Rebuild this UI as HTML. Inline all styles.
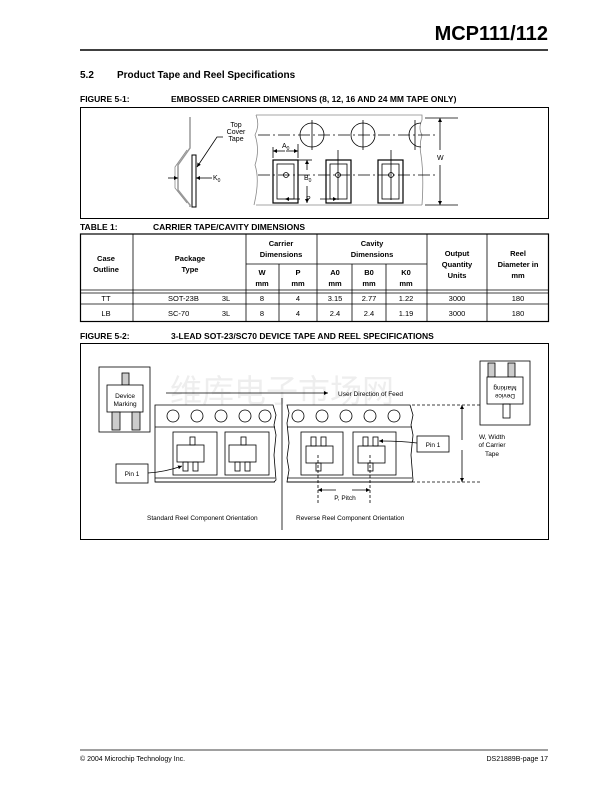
<!DOCTYPE html><html><head><meta charset="utf-8"><style>
body{margin:0;background:#fff;width:611px;height:791px;overflow:hidden}
svg{display:block}
text{font-family:"Liberation Sans","Noto Sans CJK SC",sans-serif;fill:#000}
</style></head><body>
<svg width="611" height="791" viewBox="0 0 611 791" xmlns="http://www.w3.org/2000/svg">
<defs><marker id="a" viewBox="0 0 10 10" refX="10" refY="5" markerWidth="5" markerHeight="5" orient="auto"><path d="M0,0L10,5L0,10z" fill="#000"/></marker></defs>
<text x="548" y="40" text-anchor="end" font-size="20" font-weight="bold">MCP111/112</text>
<line x1="80" y1="50" x2="548" y2="50" stroke="#000" stroke-width="1.5"/>
<text x="80" y="78" font-size="10" font-weight="bold">5.2</text>
<text x="117" y="78" font-size="10" font-weight="bold">Product Tape and Reel Specifications</text>
<text x="80" y="102" font-size="8.5" font-weight="bold">FIGURE 5-1:</text>
<text x="171" y="102" font-size="8.5" font-weight="bold">EMBOSSED CARRIER DIMENSIONS (8, 12, 16 AND 24 MM TAPE ONLY)</text>
<rect x="80.5" y="107.5" width="468" height="111" fill="none" stroke="#000"/>
<g stroke="#000" fill="none" stroke-width="0.8">
<path d="M190,117 V148 L178,165 V190 L190,205 V207" stroke="#999" stroke-width="1.5"/>
<path d="M187,150 L175,167 V188 L187,203" stroke="#888"/>
<rect x="192" y="155" width="4" height="52" stroke-width="1"/>
<line x1="168" y1="178" x2="178" y2="178" marker-end="url(#a)"/>
<line x1="212" y1="178" x2="196" y2="178" marker-end="url(#a)"/>
<path d="M223,137 H217 L197,167" marker-end="url(#a)"/>
</g>
<text x="236" y="127" font-size="7" text-anchor="middle">Top</text>
<text x="236" y="134" font-size="7" text-anchor="middle">Cover</text>
<text x="236" y="141" font-size="7" text-anchor="middle">Tape</text>
<text x="213" y="180" font-size="7">K<tspan font-size="5" dy="2">0</tspan></text>
<g stroke="#000" fill="none" stroke-width="0.8">
<path d="M256,115 H422 V120 M422,205 H256" stroke="#888"/>
<path d="M256,115 q4,10 -1,20 q5,15 0,30 q5,15 -1,40" stroke="#888"/>
<path d="M422,120 q-4,8 0,15 q-3,10 -1,20 q3,20 1,50" stroke="#888"/>
<line x1="258" y1="135" x2="438" y2="135" stroke-dasharray="12,3,2,3"/>
<line x1="258" y1="175" x2="438" y2="175" stroke-dasharray="12,3,2,3"/>
<circle cx="312" cy="135" r="12"/><circle cx="363" cy="135" r="12"/><path d="M421,123 a12,12 0 0,0 0,24"/>
<line x1="312" y1="120" x2="312" y2="150"/><line x1="363" y1="120" x2="363" y2="150"/><line x1="415" y1="120" x2="415" y2="150"/>
<rect x="273" y="160" width="25" height="43" stroke-width="1.2"/><rect x="277" y="164" width="17" height="35"/>
<rect x="326" y="160" width="25" height="43" stroke-width="1.2"/><rect x="330" y="164" width="17" height="35"/>
<rect x="378" y="160" width="25" height="43" stroke-width="1.2"/><rect x="382" y="164" width="17" height="35"/>
<circle cx="286" cy="175" r="2.5"/><circle cx="338" cy="175" r="2.5"/><circle cx="391" cy="175" r="2.5"/>
<line x1="338" y1="150" x2="338" y2="200"/><line x1="391" y1="150" x2="391" y2="200"/>
<line x1="273" y1="147" x2="273" y2="158"/><line x1="298" y1="144" x2="298" y2="158"/>
<line x1="285" y1="151" x2="273" y2="151" marker-end="url(#a)"/><line x1="286" y1="151" x2="298" y2="151" marker-end="url(#a)"/>
<line x1="298" y1="160" x2="312" y2="160"/>
<line x1="307" y1="170" x2="307" y2="160" marker-end="url(#a)"/><line x1="307" y1="186" x2="307" y2="203" marker-end="url(#a)"/>
<line x1="300" y1="199" x2="285" y2="199" marker-end="url(#a)"/><line x1="320" y1="199" x2="337" y2="199" marker-end="url(#a)"/>
<line x1="425" y1="118" x2="458" y2="118"/><line x1="425" y1="205" x2="458" y2="205"/>
<line x1="440" y1="150" x2="440" y2="118" marker-end="url(#a)"/><line x1="440" y1="165" x2="440" y2="205" marker-end="url(#a)"/>
</g>
<text x="282" y="148" font-size="7">A<tspan font-size="5" dy="2">0</tspan></text>
<text x="304" y="180" font-size="7">B<tspan font-size="5" dy="2">0</tspan></text>
<text x="306" y="201" font-size="7">P</text>
<text x="437" y="160" font-size="7">W</text>
<text x="80" y="230" font-size="8.5" font-weight="bold">TABLE 1:</text>
<text x="153" y="230" font-size="8.5" font-weight="bold">CARRIER TAPE/CAVITY DIMENSIONS</text>
<g stroke="#000" fill="none" stroke-width="0.8">
<rect x="80.5" y="234" width="468" height="87.5" stroke-width="1.2"/>
<line x1="80" y1="290" x2="548" y2="290"/><line x1="80" y1="293" x2="548" y2="293"/>
<line x1="80" y1="304" x2="548" y2="304"/>
<line x1="246" y1="264" x2="427" y2="264"/>
<line x1="133" y1="234" x2="133" y2="321"/><line x1="246" y1="234" x2="246" y2="321"/>
<line x1="279" y1="264" x2="279" y2="321"/><line x1="317" y1="234" x2="317" y2="321"/>
<line x1="352" y1="264" x2="352" y2="321"/><line x1="386" y1="264" x2="386" y2="321"/>
<line x1="427" y1="234" x2="427" y2="321"/><line x1="487" y1="234" x2="487" y2="321"/>
</g>
<g font-size="7.5" font-weight="bold" text-anchor="middle">
<text x="106" y="261">Case</text><text x="106" y="272">Outline</text>
<text x="190" y="261">Package</text><text x="190" y="272">Type</text>
<text x="281" y="246">Carrier</text><text x="281" y="257">Dimensions</text>
<text x="372" y="246">Cavity</text><text x="372" y="257">Dimensions</text>
<text x="457" y="256">Output</text><text x="457" y="267">Quantity</text><text x="457" y="278">Units</text>
<text x="518" y="256">Reel</text><text x="518" y="267">Diameter in</text><text x="518" y="278">mm</text>
<text x="262" y="275">W</text><text x="262" y="286">mm</text>
<text x="298" y="275">P</text><text x="298" y="286">mm</text>
<text x="335" y="275">A0</text><text x="335" y="286">mm</text>
<text x="369" y="275">B0</text><text x="369" y="286">mm</text>
<text x="406" y="275">K0</text><text x="406" y="286">mm</text>
</g>
<g font-size="7.5" text-anchor="middle">
<text x="106" y="301">TT</text><text x="168" y="301" text-anchor="start">SOT-23B</text><text x="226" y="301">3L</text>
<text x="262" y="301">8</text><text x="298" y="301">4</text><text x="335" y="301">3.15</text><text x="369" y="301">2.77</text><text x="406" y="301">1.22</text><text x="457" y="301">3000</text><text x="518" y="301">180</text>
<text x="106" y="316">LB</text><text x="168" y="316" text-anchor="start">SC-70</text><text x="226" y="316">3L</text>
<text x="262" y="316">8</text><text x="298" y="316">4</text><text x="335" y="316">2.4</text><text x="369" y="316">2.4</text><text x="406" y="316">1.19</text><text x="457" y="316">3000</text><text x="518" y="316">180</text>
</g>
<text x="80" y="339" font-size="8.5" font-weight="bold">FIGURE 5-2:</text>
<text x="171" y="339" font-size="8.5" font-weight="bold">3-LEAD SOT-23/SC70 DEVICE TAPE AND REEL SPECIFICATIONS</text>
<rect x="80.5" y="343.5" width="468" height="196" fill="none" stroke="#000"/>
<text x="170" y="402" font-size="32" style="fill:#eeeeee" font-family="Noto Serif CJK SC,serif">维库电子市场网</text>
<g stroke="#000" fill="none" stroke-width="0.8">
<rect x="99" y="367" width="51" height="65"/>
<rect x="122" y="373" width="7" height="12" fill="#ccc"/>
<rect x="107" y="385" width="36" height="27" fill="#fff"/>
<rect x="112" y="412" width="8" height="18" fill="#ccc"/><rect x="132" y="412" width="8" height="18" fill="#ccc"/>
<line x1="166" y1="393" x2="328" y2="393" marker-end="url(#a)"/>
<line x1="282" y1="398" x2="282" y2="530"/>
<path d="M155,405 H273 l3,10 -2,10 2,10 -2,20 2,25 -2,2 H155 V425 H155 Z"/>
<line x1="155" y1="427" x2="275" y2="427"/><line x1="155" y1="478" x2="275" y2="478"/><line x1="155" y1="482" x2="275" y2="482"/>
<circle cx="173" cy="416" r="6"/><circle cx="197" cy="416" r="6"/><circle cx="221" cy="416" r="6"/><circle cx="245" cy="416" r="6"/><circle cx="265" cy="416" r="6"/>
<rect x="173" y="432" width="44" height="43"/><rect x="225" y="432" width="44" height="43"/>
<rect x="190" y="437" width="5" height="8"/><rect x="177" y="445" width="27" height="17"/><rect x="183" y="462" width="5" height="9"/><rect x="193" y="462" width="5" height="9"/>
<rect x="241" y="437" width="5" height="8"/><rect x="229" y="445" width="27" height="17"/><rect x="235" y="462" width="5" height="9"/><rect x="245" y="462" width="5" height="9"/>
<rect x="116" y="464" width="32" height="19"/>
<path d="M148,473 Q165,472 182,466" marker-end="url(#a)"/>
<path d="M287,405 H410 l3,10 -2,10 2,10 -2,20 2,25 -1,2 H287 l2,-12 -2,-12 2,-15 -2,-20 2,-10 z"/>
<line x1="287" y1="427" x2="412" y2="427"/><line x1="287" y1="478" x2="412" y2="478"/><line x1="287" y1="482" x2="412" y2="482"/>
<circle cx="298" cy="416" r="6"/><circle cx="322" cy="416" r="6"/><circle cx="346" cy="416" r="6"/><circle cx="370" cy="416" r="6"/><circle cx="394" cy="416" r="6"/>
<rect x="301" y="432" width="42" height="43"/><rect x="353" y="432" width="43" height="43"/>
<rect x="311" y="437" width="5" height="9"/><rect x="321" y="437" width="5" height="9"/><rect x="306" y="446" width="27" height="17"/><rect x="316" y="463" width="5" height="8"/>
<rect x="363" y="437" width="5" height="9"/><rect x="373" y="437" width="5" height="9"/><rect x="358" y="446" width="27" height="17"/><rect x="368" y="463" width="5" height="8"/>
<rect x="417" y="436" width="32" height="16"/>
<path d="M417,443 Q400,441 379,441" marker-end="url(#a)"/>
<line x1="318" y1="455" x2="318" y2="504" stroke-dasharray="3,2"/><line x1="370" y1="455" x2="370" y2="504" stroke-dasharray="3,2"/>
<line x1="336" y1="490" x2="318" y2="490" marker-end="url(#a)"/><line x1="352" y1="490" x2="370" y2="490" marker-end="url(#a)"/>
<line x1="412" y1="405" x2="480" y2="405" stroke-dasharray="3,2"/><line x1="412" y1="482" x2="480" y2="482" stroke-dasharray="3,2"/>
<line x1="462" y1="440" x2="462" y2="405" marker-end="url(#a)"/><line x1="462" y1="450" x2="462" y2="482" marker-end="url(#a)"/>
<rect x="480" y="361" width="50" height="64"/>
<rect x="488" y="363" width="7" height="14" fill="#ccc"/><rect x="508" y="363" width="7" height="14" fill="#ccc"/>
<rect x="487" y="377" width="36" height="27" fill="#fff"/>
<rect x="503" y="404" width="7" height="14"/>
</g>
<g font-size="6.5">
<text x="125" y="398" text-anchor="middle">Device</text><text x="125" y="406" text-anchor="middle">Marking</text>
<text x="338" y="396">User Direction of Feed</text>
<text x="132" y="476" text-anchor="middle">Pin 1</text>
<text x="433" y="447" text-anchor="middle">Pin 1</text>
<text x="492" y="439" text-anchor="middle">W, Width</text><text x="492" y="447" text-anchor="middle">of Carrier</text><text x="492" y="456" text-anchor="middle">Tape</text>
<text x="345" y="500" text-anchor="middle">P, Pitch</text>
<text x="147" y="520">Standard Reel Component Orientation</text>
<text x="296" y="520">Reverse Reel Component Orientation</text>
<g transform="rotate(180 505 391)"><text x="505" y="388" text-anchor="middle">Device</text><text x="505" y="396" text-anchor="middle">Marking</text></g>
</g>
<line x1="80" y1="750" x2="548" y2="750" stroke="#000" stroke-width="0.8"/>
<text x="80" y="761" font-size="7">© 2004 Microchip Technology Inc.</text>
<text x="548" y="761" font-size="7" text-anchor="end">DS21889B-page 17</text>
</svg>
</body></html>
